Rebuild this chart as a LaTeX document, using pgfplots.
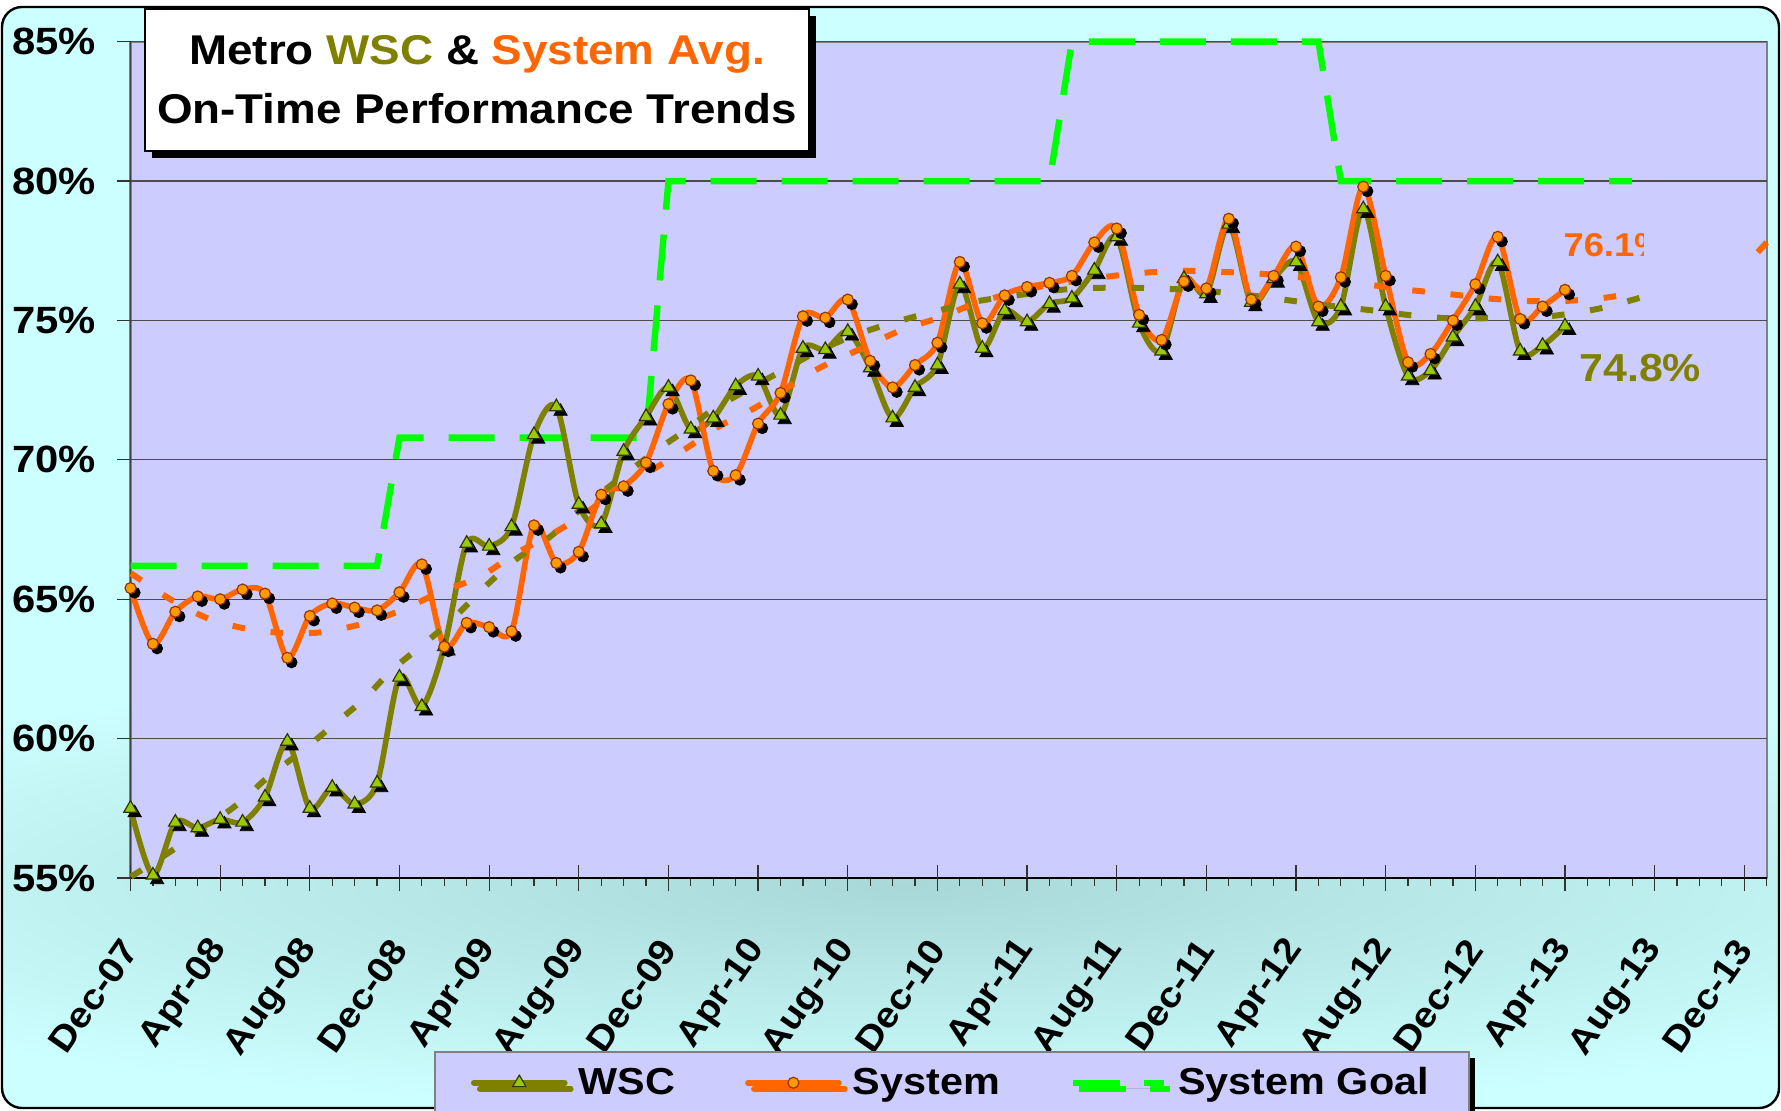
\documentclass[border=0pt]{standalone}
\usepackage{pgfplots}
\pgfplotsset{compat=1.18}
\usepackage{pgfplotstable}
\usepackage{fontspec}
\setmainfont[FakeStretch=1.1]{Liberation Sans}
\usetikzlibrary{shadows}

\definecolor{plotbg}{RGB}{204,204,255}
\definecolor{bgcyan}{RGB}{204,255,255}
\definecolor{bgdark}{RGB}{170,216,216}
\definecolor{wscol}{RGB}{128,128,0}
\definecolor{wscfill}{RGB}{153,204,0}
\definecolor{wscedge}{RGB}{51,51,0}
\definecolor{syscol}{RGB}{255,102,0}
\definecolor{sysfill}{RGB}{255,153,0}
\definecolor{sysedge}{RGB}{153,51,0}
\definecolor{goalcol}{RGB}{0,255,0}

\pgfplotstableread{
m v
0 57.5
1 55.1
2 57.0
3 56.8
4 57.1
5 57.0
6 57.9
7 59.9
8 57.5
9 58.25
10 57.65
11 58.4
12 62.2
13 61.15
14 63.3
15 67.0
16 66.9
17 67.6
18 70.9
19 71.9
20 68.4
21 67.7
22 70.3
23 71.55
24 72.6
25 71.1
26 71.5
27 72.65
28 73.0
29 71.6
30 74.0
31 73.95
32 74.6
33 73.3
34 71.5
35 72.6
36 73.4
37 76.3
38 74.0
39 75.35
40 74.95
41 75.6
42 75.8
43 76.8
44 78.0
45 74.9
46 73.9
47 76.5
48 75.95
49 78.45
50 75.65
51 76.5
52 77.1
53 74.95
54 75.5
55 79.0
56 75.5
57 73.0
58 73.2
59 74.4
60 75.5
61 77.1
62 73.9
63 74.1
64 74.8
}\wsc

\pgfplotstableread{
m v
0 65.4
1 63.4
2 64.55
3 65.1
4 65.0
5 65.35
6 65.2
7 62.9
8 64.4
9 64.85
10 64.7
11 64.6
12 65.25
13 66.25
14 63.3
15 64.15
16 64.0
17 63.85
18 67.65
19 66.3
20 66.7
21 68.75
22 69.05
23 69.9
24 72.0
25 72.85
26 69.6
27 69.45
28 71.3
29 72.4
30 75.15
31 75.1
32 75.75
33 73.55
34 72.6
35 73.4
36 74.2
37 77.1
38 74.9
39 75.9
40 76.2
41 76.35
42 76.6
43 77.8
44 78.3
45 75.2
46 74.3
47 76.4
48 76.15
49 78.65
50 75.75
51 76.6
52 77.65
53 75.5
54 76.55
55 79.8
56 76.6
57 73.5
58 73.8
59 75.0
60 76.3
61 78.0
62 75.05
63 75.5
64 76.1
}\sys

\pgfplotstableread{
m v
0 66.2
11 66.2
12 70.8
23 70.8
24 80
41 80
42 85
53 85
54 80
67 80
}\goal

\pgfplotstableread{
m v
0.02 55.05
1.84 55.98
4.74 57.62
6.08 58.58
7.71 59.59
9.05 60.49
10.46 61.45
11.66 62.46
13.22 63.48
14.48 64.37
15.74 65.39
17.16 66.41
18.72 67.24
20.13 68.26
23.18 70.17
24.6 70.97
26.08 71.85
27.64 72.56
29.21 73.26
30.77 73.94
32.55 74.54
34.41 75.01
36.12 75.37
37.91 75.71
41.4 76.09
43.19 76.17
44.9 76.17
46.68 76.12
48.39 76.03
50.18 75.88
51.89 75.7
53.6 75.52
55.31 75.37
57.1 75.19
58.8 75.08
60.52 75.08
62.3 75.08
64.01 75.22
65.72 75.46
67.5 75.85
}\wsctrend

\pgfplotstableread{
m v
0.02 65.93
1.84 64.97
3.55 64.28
5.26 63.93
7.01 63.78
8.68 63.83
10.54 64.16
12.17 64.64
13.81 65.25
15.6 65.81
17.08 66.59
18.72 67.3
20.2 68.02
21.7 68.92
23.26 69.63
24.74 70.38
26.23 71.19
27.87 71.87
29.35 72.62
30.84 73.34
32.63 74.0
34.41 74.66
36.2 75.13
37.91 75.67
40.5 76.2
43.19 76.53
44.9 76.69
46.68 76.78
48.39 76.75
50.18 76.69
51.89 76.57
53.52 76.45
55.39 76.27
57.1 76.09
58.8 75.95
60.59 75.79
62.3 75.7
64.01 75.7
65.72 75.81
67.36 76.01
}\systrend

\pgfplotstableread{
m v
72.6 77.45
73.0 77.8
}\systrendend

\tikzset{
  wscline/.style={color=wscol, line width=2.8pt, line join=round, line cap=round},
  sysline/.style={color=syscol, line width=2.8pt, line join=round, line cap=round},
  goalline/.style={color=goalcol, line width=3.2pt, dash pattern=on 23pt off 12.5pt},
  wscmark/.style={mark=triangle*, mark size=3.85pt, mark options={fill=wscfill, draw=wscedge, line width=0.6pt, solid}},
  sysmark/.style={mark=*, mark size=2.75pt, mark options={fill=sysfill, draw=sysedge, line width=0.6pt, solid}},
}

\begin{document}
\begin{tikzpicture}
\useasboundingbox (0,0) rectangle (890.5pt,555pt);
\begin{scope}
\clip[rounded corners=10pt] (1pt,1pt) rectangle (889.5pt,551.5pt);
\fill[bgcyan] (0,0) rectangle (890.5pt,555pt);
\shade[inner color=bgdark, outer color=bgcyan] (454pt,112pt) ellipse (650pt and 115pt);
\end{scope}
\draw[black, line width=1.2pt, rounded corners=10pt] (1pt,1pt) rectangle (889.5pt,551.5pt);

\begin{axis}[
  at={(65.25pt,116pt)}, anchor=south west,
  scale only axis, width=818.1pt, height=418.15pt,
  xmin=0, xmax=73, ymin=55, ymax=85,
  clip=false,
  axis background/.style={fill=plotbg, draw=gray, line width=1pt},
  axis x line*=bottom, axis y line*=left,
  x axis line style={-, black, line width=0.9pt},
  y axis line style={-, black!75, line width=0.9pt},
  xtick={0,4,...,72},
  xticklabels={Dec-07,Apr-08,Aug-08,Dec-08,Apr-09,Aug-09,Dec-09,Apr-10,Aug-10,Dec-10,Apr-11,Aug-11,Dec-11,Apr-12,Aug-12,Dec-12,Apr-13,Aug-13,Dec-13},
  minor xtick={0,...,73},
  xtick align=outside,
  ytick={55,60,...,85},
  yticklabels={55\%,60\%,65\%,70\%,75\%,80\%,85\%},
  ytick align=outside,
  major tick length=6.5pt, minor tick length=4pt,
  tick style={black!80, line width=0.6pt},
  extra x ticks={0,4,...,72}, extra x tick labels={},
  extra x tick style={xtick align=inside, major tick length=6.5pt},
  ymajorgrids, grid style={black!70, line width=0.6pt},
  xticklabel style={xshift=0pt, yshift=-26pt, rotate=55, anchor=east, inner sep=0pt, font=\fontsize{17.8}{18}\selectfont\bfseries},
  yticklabel style={anchor=east, inner sep=0pt, xshift=-10.5pt, font=\fontsize{19}{20}\selectfont\bfseries},
  legend image code/.code={\draw[mark repeat=2,mark phase=2,#1] plot coordinates {(0pt,0pt) (22.75pt,0pt) (45.5pt,0pt)};},
  legend columns=3,
  legend cell align=left,
  legend style={at={(0.1855,-0.2064)}, anchor=north west, fill=plotbg, draw=gray, line width=1pt,
     inner xsep=18pt, inner ysep=6pt,
     font=\fontsize{18.8}{20}\selectfont\bfseries,
     drop shadow={shadow xshift=3pt, shadow yshift=-3pt, opacity=1, fill=black},
     /tikz/every odd column/.append style={column sep=3.5pt},
     /tikz/every even column/.append style={column sep=33pt}},
]
\addlegendimage{wscline, wscmark}
\addlegendentry{WSC}
\addlegendimage{sysline, sysmark}
\addlegendentry{System}
\addlegendimage{goalline}
\addlegendentry{System Goal}

% goal
\addplot[goalline, forget plot] table[x=m,y=v] {\goal};
% WSC
\addplot[wscline, smooth, forget plot] table[x=m,y=v] {\wsc};
\addplot[only marks, forget plot, mark=triangle*, mark size=3.85pt, mark options={fill=black, draw=black, xshift=2.1pt, yshift=-2.3pt}] table[x=m,y=v] {\wsc};
\addplot[only marks, forget plot, wscmark] table[x=m,y=v] {\wsc};
% System
\addplot[sysline, smooth, forget plot] table[x=m,y=v] {\sys};
\addplot[only marks, forget plot, mark=*, mark size=2.75pt, mark options={fill=black, draw=black, xshift=2.1pt, yshift=-2.3pt}] table[x=m,y=v] {\sys};
\addplot[only marks, forget plot, sysmark] table[x=m,y=v] {\sys};
% trends
\addplot[wscol, line width=3pt, dash pattern=on 6.3pt off 12.9pt, smooth, forget plot] table[x=m,y=v] {\wsctrend};
\addplot[syscol, line width=3pt, dash pattern=on 6.3pt off 12.9pt, smooth, forget plot] table[x=m,y=v] {\systrend};
\addplot[syscol, line width=3pt, forget plot] table[x=m,y=v] {\systrendend};

\node[text=wscol, font=\fontsize{19.5}{20}\selectfont\bfseries, inner sep=0pt] at (axis cs:67.36,73.29) {74.8\%};
\begin{scope}
\clip (axis cs:60,76) rectangle (axis cs:67.5,80);
\node[text=syscol, font=\fontsize{16.5}{18}\selectfont\bfseries, inner sep=0pt, anchor=west] at (axis cs:63.92,77.7) {76.1\%};
\end{scope}
\end{axis}

% title
\fill[black] (76pt,476pt) rectangle (408pt,547pt);
\node[draw=black, line width=0.8pt, fill=white, minimum width=332pt, minimum height=71pt, inner sep=0pt, align=center,
  font=\fontsize{20.8}{29.5}\selectfont\bfseries] at (238.5pt,515pt)
  {Metro \textcolor{wscol}{WSC} \& \textcolor{syscol}{System Avg.}\\On-Time Performance Trends};
\end{tikzpicture}
\end{document}
